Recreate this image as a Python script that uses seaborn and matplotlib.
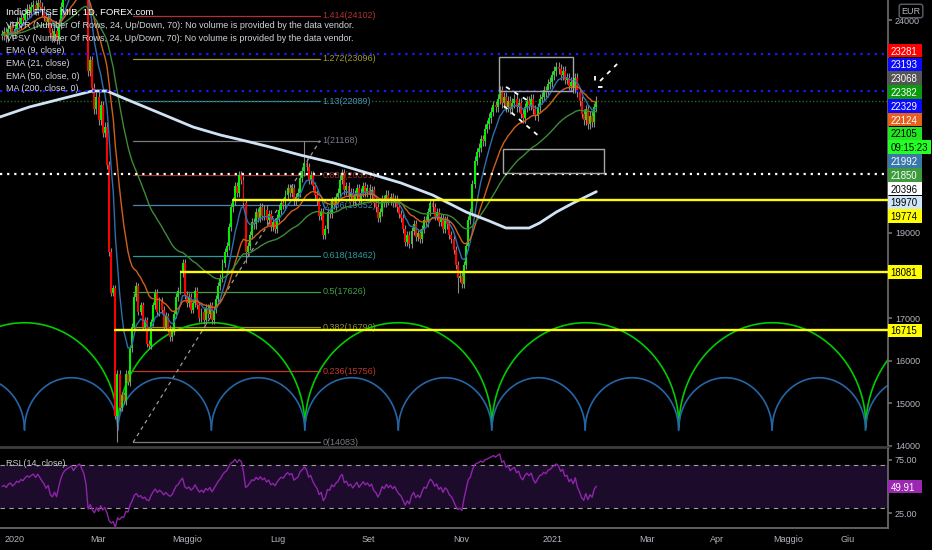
import numpy as np
import pandas as pd
import matplotlib.pyplot as plt
import seaborn as sns
from matplotlib import font_manager
from matplotlib.patches import Rectangle

# daily closes, one bar per trading day (bar 0 ~ mid Dec 2019, last bar ~ 2 Feb 2021)
closes = [
    23650, 23720, 23600, 23780, 23850, 23700,                      # dec 2019
    23800, 23950, 23900, 24050, 24000, 24150, 24250, 24200,        # jan 2020
    24300, 24350, 24250, 24400, 24300, 24200,
    24100, 23950, 24050, 23700, 23600, 23750, 23550, 23900,
    24300, 24600, 24800, 24900, 25000, 25100, 24950, 25150,        # feb
    25300, 25400, 25250, 25100, 24700,
    22800, 23050, 22400, 21900, 22200, 21650, 22000, 21350, 21500,
    20600, 18550, 17600, 17700, 14700, 15700,                      # mar crash
    14900, 15200, 15050, 15700, 15500, 16300, 16800, 17500, 17750, 17150,
    17300, 16800, 16950, 16400, 16350, 16900, 17300, 17600, 17150, 17400,
    17200, 16800, 17050, 16750, 16550, 16700, 17100, 17500, 17650, 18050,
    18300, 17550, 17350, 17500, 17200, 17350, 17650, 17300, 17000, 17150,
    16950, 17250, 17100, 17300, 16950, 17200, 17450, 17750, 17950, 18300,
    18550, 18700, 19150, 19600, 19750, 20100, 19950, 20350, 20250, 19700,
    18550, 18700, 18950, 19250, 19200, 19500, 19350, 19600, 19400, 19550,
    19300, 19450, 19150, 19250, 19100, 19350, 19550, 19700, 19650, 19900,
    20050, 19950, 20050, 19750, 19850, 19950, 20300, 20450, 20650, 20550,
    20250, 20350, 20100, 19900, 19750, 19400, 19500, 18950, 19100, 19500,
    19450, 19750, 19650, 19850, 19950, 20250, 20400, 20000, 20100, 19850,
    19950, 19750, 19900, 20050, 19800, 19950, 20100, 19950, 20050, 19900,
    20000, 19700, 19600, 19350, 19500, 19800, 19700, 19900, 19750, 19850,
    19700, 19800, 19600, 19450, 19350, 19100, 18800, 18950, 18750, 19050,
    19200, 18900, 19000, 18850, 19100, 19300, 19250, 19500, 19700, 19600,
    19400, 19500, 19250, 19350, 19100, 19300, 19200, 18950, 18850, 18600,
    18250, 17950, 18000, 17800, 18250, 18700, 19300, 19500, 20150, 20700,
    20900, 21000, 21200, 21150, 21450, 21550, 21700, 21850, 22000, 21950,
    22150, 22350, 22050, 22200, 21950, 22100, 21900, 22050, 22150, 21950,
    22050, 21800, 21700, 21950, 22100, 22000, 22150, 21900, 21750, 21950,
    22150, 22200, 22350, 22300, 22500, 22550, 22700, 22800, 22900, 22850,
    22700, 22800, 22600, 22650, 22450, 22550, 22400, 22650, 22300, 22100,
    21800, 21650, 21900, 21550, 21750, 21600, 21950, 22105,
]
# wicks that stick out well beyond the usual range
spike_bars = [55, 116, 144, 217]
spike_prices = [14083, 18300, 21168, 17590]

# MA(200)
ma200_bars = [-1, 13, 28, 43, 50, 60, 75, 91, 104, 116, 130, 142, 158, 174, 190,
              205, 221, 232, 240, 251, 256, 264, 272, 283]
ma200_vals = [21723, 21958, 22146, 22333, 22333, 22122, 21817, 21488, 21300,
              21160, 20990, 20831, 20643, 20408, 20174, 19892, 19493, 19282,
              19117, 19117, 19235, 19493, 19704, 19970]

# fibonacci retracement
fib_ratios = [0, 0.236, 0.382, 0.5, 0.618, 0.786, 0.886, 1, 1.13, 1.272, 1.414]
fib_prices = [14083, 15756, 16790, 17626, 18462, 19652, 20351, 21168, 22089, 23096, 24102]
fib_colors = ['#787b86', '#c0392b', '#8f8f3c', '#43a047', '#2a9d9a', '#4a86b5',
              '#9e2f2f', '#787b86', '#4a8fc4', '#9c9c28', '#b33030']
fib_from, fib_to = 62.4, 151.4

# horizontal levels
yellow_levels = [16715, 18081, 19774]
yellow_from = [53.8, 85.2, 110]
blue_dotted = [23193, 22329]
white_dotted = [20396]
last_price = 22105

# cycle arcs: first cusp bar, period in bars, base and top price
green_cycle = (55.2, 89.05, 14450, 16894)
blue_cycle = (10.7, 44.5, 14376, 15603)

# drawings
boxes = [(236.7, 22333, 271.9, 23131), (238.6, 20408, 286.7, 20972)]
dashed_white = [((240.0, 22430), (250.0, 22120)), ((239.0, 21980), (256.2, 21250)),
                ((284.8, 22568), (292.9, 22967)), ((282.4, 22690), (282.4, 22500)),
                ((283.8, 22427), (286.7, 22427))]

# right scale labels (text, price, background, text colour)
scale_labels = [
    ('23281', 23281, '#ff0000', 'white'), ('23193', 23193, '#0a0aff', 'white'),
    ('23068', 23068, '#555555', 'white'), ('22382', 22382, '#0b9a0b', 'white'),
    ('22329', 22329, '#0a0aff', 'white'), ('22124', 22124, '#e8601c', 'white'),
    ('22105', 22105, '#22e622', 'black'), ('09:15:23', 22105, '#22ff22', 'black'),
    ('21992', 21992, '#3a78a8', 'white'), ('21850', 21850, '#3d9a3d', 'white'),
    ('20396', 20396, '#ffffff', 'black'), ('19970', 19970, '#cfe6f8', 'black'),
    ('19774', 19774, '#ffff00', 'black'), ('18081', 18081, '#ffff00', 'black'),
    ('16715', 16715, '#ffff00', 'black'),
]
price_ticks = list(range(14000, 24001, 1000))
shown_ticks = [14000, 15000, 16000, 17000, 19000, 24000]
rsi_last = 49.91

month_bars = [6, 45.5, 88, 131.4, 174.3, 218.8, 262.4, 307.1, 340.5, 374.3, 402.9]
month_names = ['2020', 'Mar', 'Maggio', 'Lug', 'Set', 'Nov', '2021', 'Mar', 'Apr', 'Maggio', 'Giu']

legend_lines = ['Indice FTSE MIB, 1D, FOREX.com',
                'VPVR (Number Of Rows, 24, Up/Down, 70): No volume is provided by the data vendor.',
                'VPSV (Number Of Rows, 24, Up/Down, 70): No volume is provided by the data vendor.',
                'EMA (9, close)', 'EMA (21, close)', 'EMA (50, close, 0)', 'MA (200, close, 0)']

# ---------------------------------------------------------------------------
sns.set_theme(style="dark", rc={"axes.facecolor": "black", "figure.facecolor": "black",
                                "axes.grid": False})
names = {f.name for f in font_manager.fontManager.ttflist}
if 'Liberation Sans Narrow' in names:
    plt.rcParams['font.family'] = ['Liberation Sans Narrow', 'DejaVu Sans']
    fs, fs_lbl = 7.2, 7.6
else:
    plt.rcParams['font.family'] = ['Liberation Sans', 'DejaVu Sans']
    fs, fs_lbl = 6.5, 6.9
TXT = '#b2b5be'

df = pd.DataFrame({'bar': np.arange(len(closes)), 'close': closes})
df['open'] = df['close'].shift(1).fillna(df['close'].iloc[0])
df['ema9'] = df['close'].ewm(span=9, adjust=False).mean()
df['ema21'] = df['close'].ewm(span=21, adjust=False).mean()
df['ema50'] = df['close'].ewm(span=50, adjust=False).mean()

# RSI(14), Wilder smoothing, started from a neutral state
avg_g, avg_l = 120.0, 120.0
rsi = [50.0]
for d in df['close'].diff().iloc[1:]:
    avg_g = (avg_g * 13 + max(d, 0)) / 14
    avg_l = (avg_l * 13 + max(-d, 0)) / 14
    rsi.append(100 - 100 / (1 + avg_g / avg_l))
df['rsi'] = rsi

W, H = 932, 550
fig = plt.figure(figsize=(W / 100, H / 100), dpi=100)
ax = fig.add_axes([0, 103 / H, 888 / W, 447 / H])
ax_rsi = fig.add_axes([0, 22 / H, 888 / W, 79 / H])

XMIN, XMAX = -0.95, 421.9

# candles
body_lo = np.minimum(df['open'], df['close']).to_numpy()
body_hi = np.maximum(df['open'], df['close']).to_numpy()
height = np.maximum(body_hi - body_lo, 25)
wick = 0.005 * df['close'].to_numpy()
lows, highs = body_lo - wick, body_hi + wick
for b, p in zip(spike_bars, spike_prices):
    if p < lows[b]:
        lows[b] = p
    else:
        highs[b] = p
colors = np.where(df['close'] >= df['open'], '#00f000', '#ff0000')
ax.vlines(df['bar'], lows, highs, color='#8a8a8a', lw=0.8, zorder=3)
ax.bar(df['bar'], height, bottom=body_lo, width=0.95, color=colors, lw=0, zorder=4)

# cycle arcs
for start, period, base, top, col in [(*green_cycle, '#00cc00'), (*blue_cycle, '#2466a8')]:
    k0 = int(np.floor((XMIN - start) / period))
    k1 = int(np.ceil((XMAX - start) / period))
    for k in range(k0, k1 + 1):
        c = start + k * period
        t = np.linspace(c, c + period, 200)
        u = (t - c) / period * 2 - 1
        ax.plot(t, base + (top - base) * np.sqrt(np.clip(1 - u ** 2, 0, 1)),
                color=col, lw=1.2, zorder=2)

# fibonacci
for r, p, c in zip(fib_ratios, fib_prices, fib_colors):
    ax.plot([fib_from, fib_to], [p, p], color=c, lw=0.9, zorder=1.5)
    ax.text(fib_to + 1.2, p, f'{r:g}({p})', color=c, fontsize=fs, va='center',
            ha='left', zorder=1.6)
ax.plot([fib_from, fib_to], [fib_prices[0], fib_prices[7]], color='#9a9a9a',
        lw=0.9, ls=(0, (3, 3)), zorder=1.5)

# horizontal lines
for p, x0 in zip(yellow_levels, yellow_from):
    ax.plot([x0, XMAX], [p, p], color='#ffff00', lw=1.7, zorder=7)
for p in blue_dotted:
    ax.axhline(p, color='#1a1aff', lw=1.6, ls=(0, (1, 2.2)), zorder=7)
for p in white_dotted:
    ax.axhline(p, color='white', lw=1.6, ls=(0, (1, 2.2)), zorder=7)
ax.axhline(last_price, color='#1f6b1f', lw=1.0, ls=(0, (1, 1.5)), zorder=2)

# moving averages
for col, c in [('ema9', '#2f6fb0'), ('ema21', '#d2601a'), ('ema50', '#3d8b37')]:
    sns.lineplot(data=df, x='bar', y=col, ax=ax, color=c, lw=1.0, legend=False, zorder=6)
sns.lineplot(x=ma200_bars, y=ma200_vals, ax=ax, color='#d0e3f5', lw=2.0, legend=False, zorder=6)

# drawings
for x0, y0, x1, y1 in boxes:
    ax.add_patch(Rectangle((x0, y0), x1 - x0, y1 - y0, fill=False, ec='#a6a6a6', lw=1.0, zorder=8))
for (xa, ya), (xb, yb) in dashed_white:
    ax.plot([xa, xb], [ya, yb], color='white', lw=1.3, ls=(0, (2.5, 3)), zorder=8)

ax.set_xlim(XMIN, XMAX)
ax.set_ylim(13976.5, 24469.5)
ax.set_xlabel('')
ax.set_ylabel('')
ax.set_xticks([])
ax.yaxis.tick_right()
ax.set_yticks(price_ticks)
ax.set_yticklabels([str(v) if v in shown_ticks else '' for v in price_ticks])
ax.tick_params(axis='y', colors='#6b6b6b', labelcolor=TXT, labelsize=fs, length=3, pad=2)
for s in ['top', 'left']:
    ax.spines[s].set_visible(False)
ax.spines['right'].set_color('#6b6b6b')
ax.spines['bottom'].set_color('#3d3d3d')
ax.spines['bottom'].set_linewidth(2)

# RSI panel
ax_rsi.axhspan(30, 70, color='#1c0b2b', lw=0, zorder=0)
for lvl in (70, 30):
    ax_rsi.axhline(lvl, color='#a0a0a0', lw=0.8, ls=(0, (4, 4)), zorder=1)
sns.lineplot(data=df, x='bar', y='rsi', ax=ax_rsi, color='#8e24aa', lw=1.0,
             legend=False, zorder=3)
ax_rsi.set_xlim(XMIN, XMAX)
ax_rsi.set_ylim(11.1, 85.2)
ax_rsi.set_xlabel('')
ax_rsi.set_ylabel('')
ax_rsi.yaxis.tick_right()
ax_rsi.set_yticks([25, 75])
ax_rsi.set_yticklabels(['25.00', '75.00'])
ax_rsi.set_xticks(month_bars)
ax_rsi.set_xticklabels(month_names)
ax_rsi.tick_params(axis='both', colors='#6b6b6b', labelcolor=TXT, labelsize=fs, length=3, pad=2)
for s in ['top', 'left']:
    ax_rsi.spines[s].set_visible(False)
for s in ['right', 'bottom']:
    ax_rsi.spines[s].set_color('#6b6b6b')
ax_rsi.text(6 / 888, 0.82, 'RSI (14, close)', transform=ax_rsi.transAxes, color='#c8cbd2',
            fontsize=fs, va='center', ha='left')

# price scale labels: boxes of fixed size, stacked so they never overlap
fig.canvas.draw()
LBL_H = 13.6


def scale_label(y_disp, txt, bg, fc):
    w = 34 if len(txt) <= 5 else 43
    fig.patches.append(Rectangle((888 / W, (y_disp - LBL_H / 2) / H), w / W, LBL_H / H,
                                 transform=fig.transFigure, fc=bg, ec='none', zorder=5))
    fig.text(890.5 / W, y_disp / H, txt, color=fc, fontsize=fs_lbl, va='center_baseline',
             ha='left', zorder=6)


prev = None
for txt, p, bg, fc in scale_labels:
    d = ax.transData.transform((0, p))[1]
    if prev is not None and d > prev - LBL_H - 0.2:
        d = prev - LBL_H - 0.2
    prev = d
    scale_label(d, txt, bg, fc)
scale_label(ax_rsi.transData.transform((0, rsi_last))[1], f'{rsi_last:.2f}', '#9c27b0', 'white')

fig.text(911 / W, 1 - 11 / H, 'EUR', color=TXT, fontsize=fs, ha='center', va='center',
         zorder=7, bbox=dict(boxstyle='round,pad=0.25', fc='black', ec='#5d606b'))

# study legend, top left
for i, line in enumerate(legend_lines):
    fig.text(6 / W, 1 - (12.7 + 12.7 * i) / H, line, color='white' if i == 0 else '#d1d4dc',
             fontsize=fs + (0.3 if i == 0 else 0), va='center', ha='left', zorder=20)

fig.savefig('out.png', dpi=100, facecolor='black')
